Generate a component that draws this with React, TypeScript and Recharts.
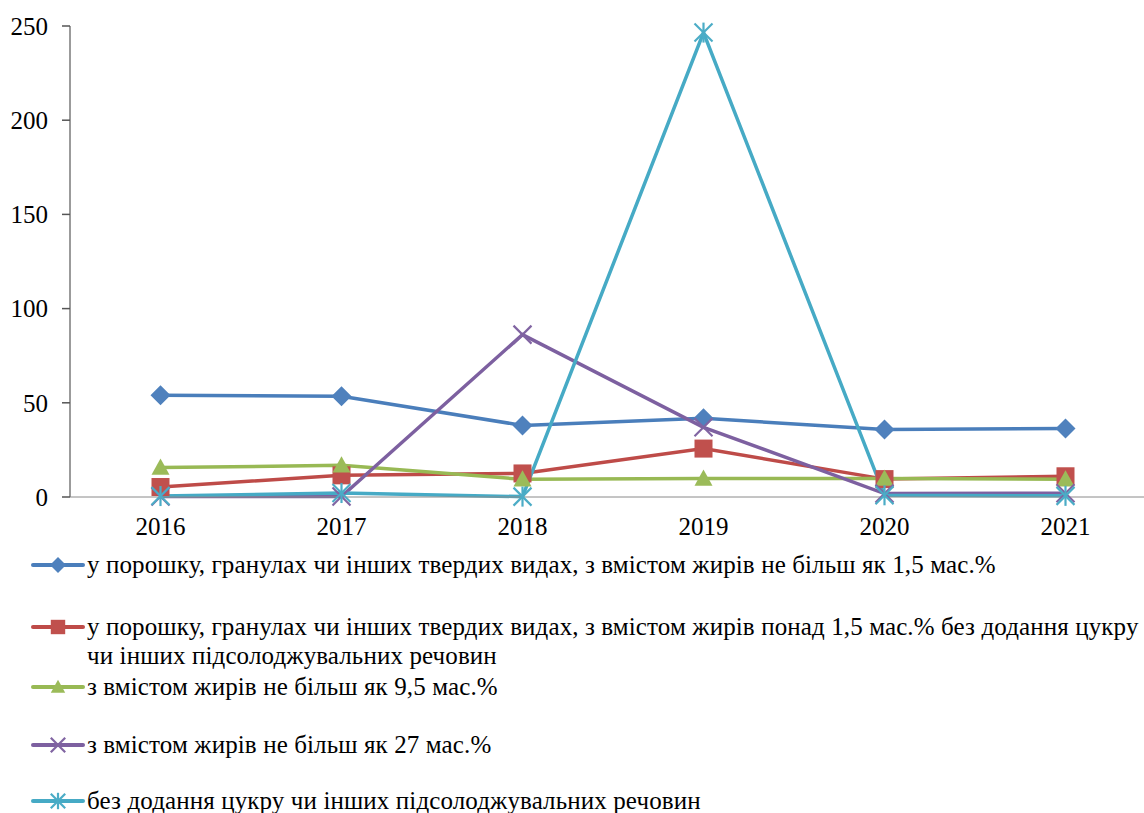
import React from "react";
import { LineChart, Line, XAxis, YAxis } from "recharts";

const years = ["2016", "2017", "2018", "2019", "2020", "2021"];
const powderLowFat = [54, 53.5, 38, 41.8, 35.8, 36.3];
const powderHighFat = [5.3, 11.5, 12.5, 25.7, 9.5, 11];
const fatUpTo95 = [15.6, 16.8, 9.4, 9.8, 9.8, 9.4];
const fatUpTo27 = [0.3, 0.3, 86.2, 37, 1.8, 2];
const noSugar = [0.5, 2.1, 0.2, 246.5, 0.9, 0.6];
const yTicks = [0, 50, 100, 150, 200, 250];

const names = [
  "у порошку, гранулах чи інших твердих видах, з вмістом жирів не більш як 1,5 мас.%",
  "у порошку, гранулах чи інших твердих видах, з вмістом жирів понад 1,5 мас.% без додання цукру чи інших підсолоджувальних речовин",
  "з вмістом жирів не більш як 9,5 мас.%",
  "з вмістом жирів не більш як 27 мас.%",
  "без додання цукру чи інших підсолоджувальних речовин",
];

const FONT = "Liberation Serif, serif";

const data = years.map((year, i) => ({
  year,
  s1: powderLowFat[i],
  s2: powderHighFat[i],
  s3: fatUpTo95[i],
  s4: fatUpTo27[i],
  s5: noSugar[i],
}));

type Marker = "diamond" | "square" | "triangle" | "cross" | "star";

function MarkerShape({ kind, cx, cy, color, s = 1 }: { kind: Marker; cx: number; cy: number; color: string; s?: number }) {
  if (cx == null || cy == null) return null;
  if (kind === "diamond") {
    const h = 10 * s;
    return <polygon points={`${cx},${cy - h} ${cx + h},${cy} ${cx},${cy + h} ${cx - h},${cy}`} fill={color} />;
  }
  if (kind === "square") {
    const h = 9 * s;
    return <rect x={cx - h} y={cy - h} width={h * 2} height={h * 2} fill={color} />;
  }
  if (kind === "triangle") {
    const h = 9 * s;
    return <polygon points={`${cx},${cy - h} ${cx + h},${cy + h * 0.8} ${cx - h},${cy + h * 0.8}`} fill={color} />;
  }
  const h = 9 * s;
  return (
    <g stroke={color} strokeWidth={2.2}>
      <line x1={cx - h} y1={cy - h} x2={cx + h} y2={cy + h} />
      <line x1={cx - h} y1={cy + h} x2={cx + h} y2={cy - h} />
      {kind === "star" && <line x1={cx} y1={cy - h - 1} x2={cx} y2={cy + h + 1} />}
    </g>
  );
}

const series = [
  { key: "s1", line: "#4A7EBB", mark: "#4F81BD", kind: "diamond" as Marker },
  { key: "s2", line: "#BE4B48", mark: "#C0504D", kind: "square" as Marker },
  { key: "s3", line: "#98B954", mark: "#9BBB59", kind: "triangle" as Marker },
  { key: "s4", line: "#7D60A0", mark: "#8064A2", kind: "cross" as Marker },
  { key: "s5", line: "#46AAC5", mark: "#4BACC6", kind: "star" as Marker },
];

// legend row centres, as in the original layout
const legendTops = [565, 627, 687, 745, 801];

export default function App() {
  return (
    <div style={{ position: "fixed", left: 0, top: 0, width: 1144, height: 813, overflow: "hidden", background: "#fff", fontFamily: FONT }}>
      <LineChart width={1156} height={545} data={data} margin={{ top: 26, right: 0, left: 8, bottom: 0 }}>
        <XAxis
          dataKey="year"
          scale="band"
          height={48}
          tickLine={false}
          tickMargin={14}
          axisLine={{ stroke: "#8a8a8a", strokeWidth: 1 }}
          tick={{ fill: "#000", fontSize: 25, fontFamily: FONT }}
        />
        <YAxis
          width={62}
          domain={[0, 250]}
          ticks={yTicks}
          tickSize={8}
          tickMargin={14}
          axisLine={{ stroke: "#7a7a7a", strokeWidth: 1.5 }}
          tickLine={{ stroke: "#555", strokeWidth: 1.5 }}
          tick={{ fill: "#000", fontSize: 25, fontFamily: FONT }}
        />
        {series.map((s) => (
          <Line
            key={s.key}
            type="linear"
            dataKey={s.key}
            stroke={s.line}
            strokeWidth={3.5}
            isAnimationActive={false}
            activeDot={false}
            dot={(p: any) => <MarkerShape key={`${s.key}-${p.index}`} kind={s.kind} cx={p.cx} cy={p.cy} color={s.mark} />}
          />
        ))}
      </LineChart>
      {series.map((s, i) => (
        <div key={s.key} style={{ position: "absolute", left: 0, top: legendTops[i] - 15, width: 1144 }}>
          <svg width={86} height={30} style={{ position: "absolute", left: 0, top: 0 }}>
            <line x1={33} y1={15} x2={83} y2={15} stroke={s.line} strokeWidth={4} strokeLinecap="round" />
            <MarkerShape kind={s.kind} cx={58} cy={15} color={s.mark} s={0.8} />
          </svg>
          <div style={{ position: "absolute", left: 87, top: 0, width: 1057, fontSize: 25, lineHeight: "29px", letterSpacing: 0.12, color: "#000", fontFamily: FONT }}>
            {names[i]}
          </div>
        </div>
      ))}
    </div>
  );
}
